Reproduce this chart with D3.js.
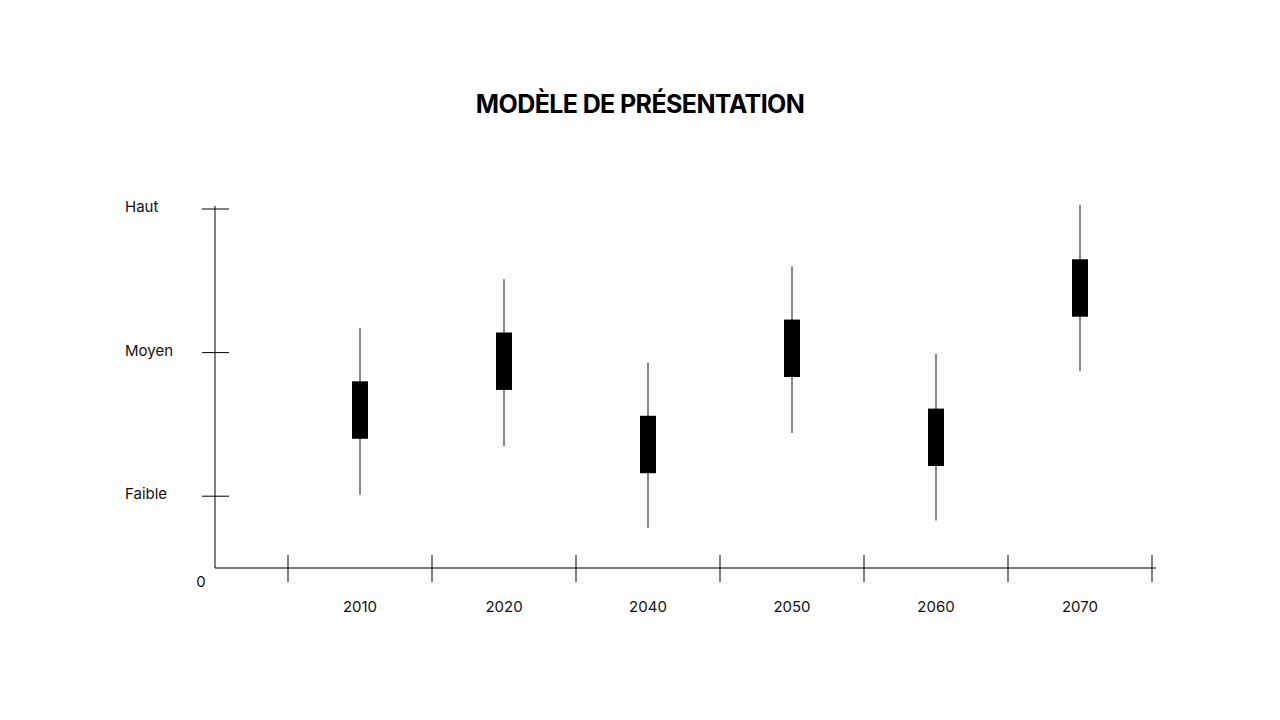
<!doctype html>
<html lang="fr">
<head>
<meta charset="utf-8">
<script src="https://d3js.org/d3.v7.min.js"></script>
<style>
  body { margin: 0; background: #fff; font-family: Inter, "Noto Sans", sans-serif; }
</style>
</head>
<body>
<svg id="chart" width="1280" height="720"></svg>
<script>
const years = ["2010", "2020", "2040", "2050", "2060", "2070"];
const highs = [2.17, 2.51, 1.93, 2.60, 1.99, 3.03];
const boxTop = [1.80, 2.14, 1.56, 2.23, 1.61, 2.65];
const boxBottom = [1.40, 1.74, 1.16, 1.83, 1.21, 2.25];
const lows = [1.01, 1.35, 0.78, 1.44, 0.83, 1.87];
const levels = [1, 2, 3];
const levelLabels = ["Faible", "Moyen", "Haut"];

const svg = d3.select("#chart");

svg.append("text").attr("x", 640).attr("y", 113).attr("text-anchor", "middle")
  .attr("font-size", 25).attr("font-weight", 700).attr("letter-spacing", -0.6)
  .text("MODÈLE DE PRÉSENTATION");

const x = d3.scaleBand().domain(years).range([288, 1152]);
const y = d3.scaleLinear().domain([0.5, 3]).range([568, 209]);

// axes
svg.append("line").attr("x1", 215).attr("x2", 215).attr("y1", 206).attr("y2", 568).attr("stroke", "#000");
svg.append("line").attr("x1", 215).attr("x2", 1156).attr("y1", 568).attr("y2", 568).attr("stroke", "#000");

const tickXs = [x(years[0])].concat(years.map(d => x(d) + x.bandwidth()));
svg.selectAll(".xt").data(tickXs).join("line")
  .attr("x1", d => d).attr("x2", d => d).attr("y1", 555).attr("y2", 582).attr("stroke", "#000");
svg.selectAll(".xl").data(years).join("text")
  .attr("x", d => x(d) + x.bandwidth() / 2).attr("y", 612).attr("text-anchor", "middle")
  .attr("font-size", 15).attr("fill", "#111").text(d => d);

svg.selectAll(".yt").data(levels).join("line")
  .attr("x1", 202).attr("x2", 229).attr("y1", d => y(d)).attr("y2", d => y(d)).attr("stroke", "#000");
svg.selectAll(".yl").data(levels).join("text")
  .attr("x", 125).attr("y", d => y(d) + 3).attr("font-size", 15).attr("fill", "#111")
  .text((d, i) => levelLabels[i]);
svg.append("text").attr("x", 201).attr("y", 587).attr("text-anchor", "middle")
  .attr("font-size", 15).attr("fill", "#111").text("0");

// candles
const cx = i => x(years[i]) + x.bandwidth() / 2;
svg.selectAll(".wick").data(years).join("line")
  .attr("x1", (d, i) => cx(i)).attr("x2", (d, i) => cx(i))
  .attr("y1", (d, i) => y(highs[i])).attr("y2", (d, i) => y(lows[i]))
  .attr("stroke", "#888").attr("stroke-width", 2);
svg.selectAll(".box").data(years).join("rect")
  .attr("x", (d, i) => cx(i) - 8).attr("width", 16)
  .attr("y", (d, i) => y(boxTop[i])).attr("height", (d, i) => y(boxBottom[i]) - y(boxTop[i]))
  .attr("fill", "#000");
</script>
</body>
</html>
